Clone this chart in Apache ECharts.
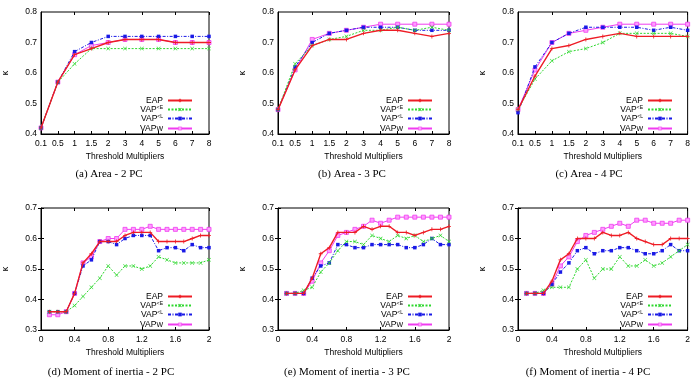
<!DOCTYPE html>
<html>
<head>
<meta charset="utf-8">
<style>
  html, body { margin: 0; padding: 0; background: #fff; }
  #chart { width: 693px; height: 381px; }
</style>
<script src="https://cdn.jsdelivr.net/npm/echarts@6/dist/echarts.min.js"></script>
</head>
<body>
<div id="chart"></div>
<script>
// x axis of the area plots (categories) and of the moment of inertia plots (values)
const thresholdCats = ['0.1', '0.5', '1', '1.5', '2', '3', '4', '5', '6', '7', '8'];
const momentX = [0.1, 0.2, 0.3, 0.4, 0.5, 0.6, 0.7, 0.8, 0.9, 1.0, 1.1, 1.2, 1.3, 1.4, 1.5, 1.6, 1.7, 1.8, 1.9, 2.0];

// (a) Area - 2 PC
const area2Eap  = [0.42, 0.57, 0.66, 0.68, 0.70, 0.71, 0.71, 0.71, 0.70, 0.70, 0.70];
const area2VapE = [0.42, 0.57, 0.63, 0.68, 0.68, 0.68, 0.68, 0.68, 0.68, 0.68, 0.68];
const area2VapL = [0.42, 0.57, 0.67, 0.70, 0.72, 0.72, 0.72, 0.72, 0.72, 0.72, 0.72];
const area2VapW = [0.42, 0.57, 0.66, 0.69, 0.70, 0.71, 0.71, 0.71, 0.70, 0.70, 0.70];
// (b) Area - 3 PC
const area3Eap  = [0.48, 0.61, 0.69, 0.71, 0.71, 0.73, 0.74, 0.74, 0.73, 0.72, 0.73];
const area3VapE = [0.48, 0.63, 0.69, 0.71, 0.72, 0.74, 0.74, 0.75, 0.74, 0.75, 0.74];
const area3VapL = [0.48, 0.62, 0.70, 0.73, 0.74, 0.75, 0.75, 0.75, 0.74, 0.74, 0.74];
const area3VapW = [0.48, 0.61, 0.71, 0.73, 0.74, 0.75, 0.76, 0.76, 0.76, 0.76, 0.76];
// (c) Area - 4 PC
const area4Eap  = [0.48, 0.59, 0.68, 0.69, 0.71, 0.72, 0.73, 0.72, 0.72, 0.72, 0.72];
const area4VapE = [0.48, 0.58, 0.64, 0.67, 0.68, 0.70, 0.73, 0.73, 0.73, 0.73, 0.72];
const area4VapL = [0.47, 0.62, 0.70, 0.73, 0.75, 0.75, 0.75, 0.75, 0.74, 0.75, 0.74];
const area4VapW = [0.48, 0.61, 0.70, 0.73, 0.74, 0.75, 0.76, 0.76, 0.76, 0.76, 0.76];
// (d) Moment of inertia - 2 PC
const mom2Eap  = [0.36, 0.36, 0.36, 0.42, 0.52, 0.55, 0.59, 0.59, 0.59, 0.61, 0.62, 0.62, 0.62, 0.59, 0.59, 0.59, 0.59, 0.60, 0.61, 0.61];
const mom2VapE = [0.36, 0.36, 0.36, 0.38, 0.41, 0.44, 0.47, 0.51, 0.48, 0.51, 0.51, 0.50, 0.51, 0.54, 0.53, 0.52, 0.52, 0.52, 0.52, 0.53];
const mom2VapL = [0.36, 0.36, 0.36, 0.42, 0.51, 0.53, 0.59, 0.59, 0.58, 0.60, 0.61, 0.61, 0.61, 0.56, 0.57, 0.57, 0.56, 0.58, 0.57, 0.57];
const mom2VapW = [0.35, 0.35, 0.36, 0.42, 0.52, 0.54, 0.59, 0.60, 0.60, 0.63, 0.63, 0.63, 0.64, 0.63, 0.63, 0.63, 0.63, 0.63, 0.63, 0.63];
// (e) Moment of inertia - 3 PC
const mom3Eap  = [0.42, 0.42, 0.42, 0.47, 0.55, 0.57, 0.62, 0.62, 0.62, 0.64, 0.63, 0.64, 0.64, 0.62, 0.62, 0.61, 0.62, 0.63, 0.63, 0.64];
const mom3VapE = [0.42, 0.42, 0.43, 0.44, 0.49, 0.52, 0.56, 0.59, 0.59, 0.58, 0.61, 0.60, 0.59, 0.61, 0.60, 0.61, 0.59, 0.60, 0.61, 0.59];
const mom3VapL = [0.42, 0.42, 0.42, 0.47, 0.51, 0.52, 0.58, 0.58, 0.57, 0.57, 0.58, 0.58, 0.58, 0.58, 0.57, 0.57, 0.58, 0.60, 0.58, 0.58];
const mom3VapW = [0.42, 0.42, 0.42, 0.46, 0.52, 0.56, 0.61, 0.62, 0.63, 0.64, 0.66, 0.65, 0.66, 0.67, 0.67, 0.67, 0.67, 0.67, 0.67, 0.67];
// (f) Moment of inertia - 4 PC
const mom4Eap  = [0.42, 0.42, 0.42, 0.46, 0.53, 0.55, 0.60, 0.60, 0.60, 0.62, 0.61, 0.61, 0.62, 0.60, 0.59, 0.58, 0.58, 0.60, 0.60, 0.60];
const mom4VapE = [0.42, 0.42, 0.43, 0.44, 0.44, 0.44, 0.50, 0.53, 0.47, 0.50, 0.50, 0.54, 0.51, 0.51, 0.53, 0.51, 0.52, 0.54, 0.56, 0.58];
const mom4VapL = [0.42, 0.42, 0.42, 0.45, 0.49, 0.52, 0.56, 0.57, 0.55, 0.56, 0.56, 0.57, 0.57, 0.56, 0.55, 0.55, 0.56, 0.58, 0.56, 0.56];
const mom4VapW = [0.42, 0.42, 0.42, 0.45, 0.51, 0.54, 0.59, 0.61, 0.62, 0.63, 0.64, 0.65, 0.64, 0.66, 0.66, 0.65, 0.65, 0.65, 0.66, 0.66];

const captions = [
  '(a) Area - 2 PC', '(b) Area - 3 PC', '(c) Area - 4 PC',
  '(d) Moment of inertia - 2 PC', '(e) Moment of inertia - 3 PC', '(f) Moment of inertia - 4 PC'
];
const seriesNames = ['EAP', 'VAP<E', 'VAP<L', 'VAPW'];

const panels = [
  { data: [area2Eap, area2VapE, area2VapL, area2VapW], area: true },
  { data: [area3Eap, area3VapE, area3VapL, area3VapW], area: true },
  { data: [area4Eap, area4VapE, area4VapL, area4VapW], area: true },
  { data: [mom2Eap, mom2VapE, mom2VapL, mom2VapW], area: false },
  { data: [mom3Eap, mom3VapE, mom3VapL, mom3VapW], area: false },
  { data: [mom4Eap, mom4VapE, mom4VapL, mom4VapW], area: false }
];

const FONT = 'Liberation Sans, Arial, sans-serif';
const colLeft = [38, 278, 518];
const rowTop = [12, 208];
const capCenter = [109, 352, 589, 111, 347, 588];
const capY = [174, 372];
const gridW = 171, gridH = 122;

const styles = [
  { color: '#ee1c25', type: 'solid', width: 1.4, symbol: 'path://M4,0H6V4H10V6H6V10H4V6H0V4H4Z', size: 4, fill: '#ee1c25' },
  { color: '#2ed82e', type: [2, 1.5], width: 1, symbol: 'path://M1,0L5,4L9,0L10,1L6,5L10,9L9,10L5,6L1,10L0,9L4,5L0,1Z', size: 4, fill: '#2ed82e' },
  { color: '#1a1ae6', type: [3, 1.5, 1, 1.5], width: 1, symbol: 'rect', size: 3.5, fill: '#1a1ae6' },
  { color: '#f03cf0', type: 'solid', width: 1, symbol: 'rect', size: 4, fill: '#ff9cff' }
];

const grid = [], xAxis = [], yAxis = [], series = [], legend = [], graphic = [];
const tickStyle = { inside: true, length: 3, lineStyle: { color: '#000', width: 1 } };

panels.forEach((p, i) => {
  const row = Math.floor(i / 3), col = i % 3;
  const left = colLeft[col], top = rowTop[row];
  grid.push({ left: left, top: top, width: gridW, height: gridH, show: true, borderColor: '#000', borderWidth: 1 });

  const xBase = p.area
    ? { type: 'category', data: thresholdCats, boundaryGap: false }
    : { type: 'value', min: 0, max: 2, interval: 0.4 };
  xAxis.push(Object.assign({}, xBase, {
    gridIndex: i, position: 'bottom',
    name: 'Threshold Multipliers', nameLocation: 'middle', nameGap: 18,
    nameTextStyle: { fontFamily: FONT, fontSize: 8.5, color: '#000' },
    axisLine: { lineStyle: { color: '#000' } },
    axisTick: Object.assign({ alignWithLabel: true }, tickStyle),
    axisLabel: { fontFamily: FONT, fontSize: 8.5, color: '#000', margin: 5, interval: 0,
      formatter: p.area ? null : (v) => String(v) },
    splitLine: { show: false }
  }));
  xAxis.push(Object.assign({}, xBase, {
    gridIndex: i, position: 'top',
    axisLine: { show: false }, axisTick: tickStyle, axisLabel: { show: false }, splitLine: { show: false }
  }));

  const yMin = p.area ? 0.4 : 0.3;
  yAxis.push({
    type: 'value', gridIndex: i, min: yMin, max: yMin + 0.4, interval: 0.1, position: 'left',
    name: 'κ', nameLocation: 'middle', nameGap: 31, nameRotate: 90,
    nameTextStyle: { fontFamily: FONT, fontSize: 9, color: '#000' },
    axisLine: { show: true, lineStyle: { color: '#000' } },
    axisTick: tickStyle,
    axisLabel: { fontFamily: FONT, fontSize: 8.5, color: '#000', margin: 4, formatter: (v) => v.toFixed(1) },
    splitLine: { show: false }
  });
  yAxis.push({
    type: 'value', gridIndex: i, min: yMin, max: yMin + 0.4, interval: 0.1, position: 'right',
    axisLine: { show: false }, axisTick: tickStyle, axisLabel: { show: false }, splitLine: { show: false }
  });

  p.data.forEach((vals, k) => {
    const s = styles[k];
    series.push({
      name: seriesNames[k], type: 'line',
      xAxisIndex: i * 2, yAxisIndex: i * 2,
      data: p.area ? vals : vals.map((v, j) => [momentX[j], v]),
      symbol: s.symbol, symbolSize: s.size, showSymbol: true,
      lineStyle: { color: s.color, width: s.width, type: s.type },
      itemStyle: { color: s.fill, borderColor: s.color, borderWidth: k === 3 ? 0.8 : 0 },
      emphasis: { disabled: true },
      animation: false, z: 4 - k
    });
  });

  legend.push({
    orient: 'vertical', align: 'right',
    right: 693 - (left + gridW - 11), top: top + 79,
    itemWidth: 24, itemHeight: 4, itemGap: 0,
    itemStyle: { borderWidth: 0.5 },
    selectedMode: false,
    data: seriesNames,
    formatter: (n) => {
      if (n === 'VAP<E') return '{m|VAP}{s|<E}';
      if (n === 'VAP<L') return '{m|VAP}{s|<L}';
      if (n === 'VAPW') return '{m|VAP}{b|W}';
      return '{m|' + n + '}';
    },
    textStyle: {
      fontFamily: FONT, fontSize: 8.5, color: '#000', lineHeight: 9,
      rich: {
        m: { fontFamily: FONT, fontSize: 8.5, lineHeight: 9, verticalAlign: 'middle' },
        s: { fontFamily: FONT, fontSize: 5, lineHeight: 9, verticalAlign: 'top', padding: [0, 0, 4, 0] },
        b: { fontFamily: FONT, fontSize: 7, lineHeight: 9, verticalAlign: 'bottom', padding: [3, 0, 0, 0] }
      }
    }
  });

  graphic.push({
    type: 'text', x: capCenter[i], y: capY[row],
    style: { text: captions[i], align: 'center', verticalAlign: 'middle',
      font: '11px "Liberation Serif", "Times New Roman", serif', fill: '#000' }
  });
});

const chart = echarts.init(document.getElementById('chart'));
chart.setOption({
  animation: false,
  backgroundColor: '#fff',
  grid: grid,
  xAxis: xAxis,
  yAxis: yAxis,
  legend: legend,
  graphic: graphic,
  series: series
});
</script>
</body>
</html>
